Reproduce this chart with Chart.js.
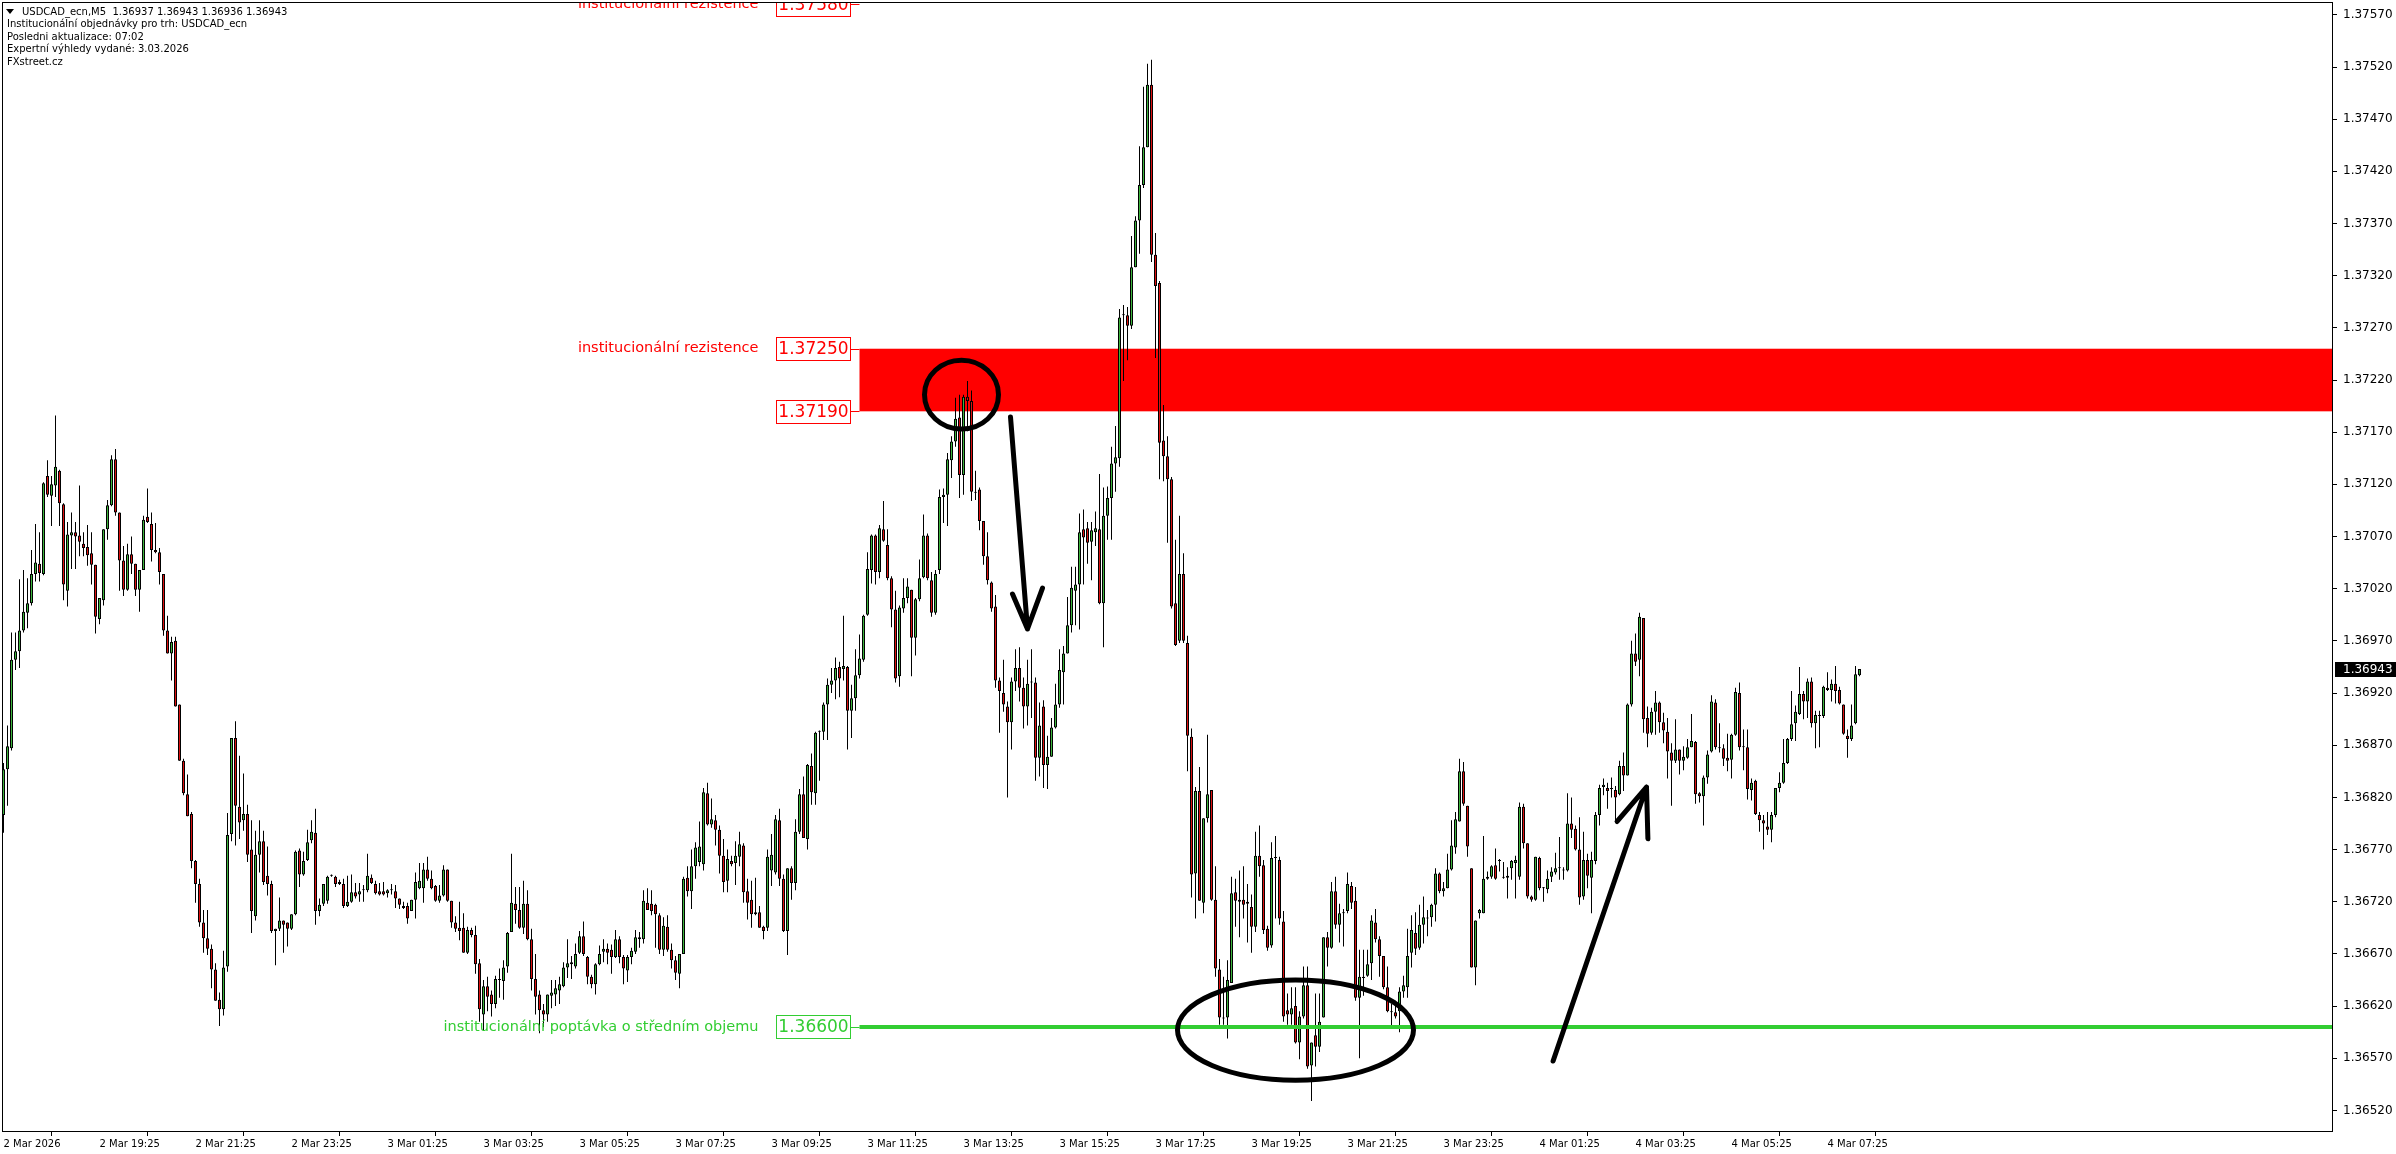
<!DOCTYPE html>
<html>
<head>
<meta charset="utf-8">
<title>USDCAD_ecn,M5</title>
<script src="https://cdn.jsdelivr.net/npm/chart.js@4.4.1/dist/chart.umd.min.js"></script>
<style>
  html, body { margin: 0; padding: 0; background: #fff; }
</style>
</head>
<body>
<canvas id="chart" width="2396" height="1154"></canvas>
<script>
// USDCAD_ecn M5, one candle per bar from 2 Mar 17:25 to 4 Mar 08:05.
// Prices kept in points above 1.36000 (943 = 1.36943).
const BASE = 1.36, POINT = 0.00001;

const opens = [
  803,847,867,952,960,980,997,1006,1034,1044, 1034,1128,1109,1119,1133,1101,1018,1071,1074,1071,
  1063,1060,1054,1043,991,1009,1077,1100,1144,1093, 1047,1019,1053,1044,1019,1038,1089,1082,1057,1055,
  1034,980,958,970,909,855,823,804,759,737, 700,685,675,655,626,617,658,785,877,811,
  798,804,770,706,765,778,745,737,692,694, 702,700,694,708,769,746,760,779,786,711,
  718,721,745,744,739,737,716,720,729,727, 731,731,743,737,730,730,728,731,730,723,
  716,716,711,722,733,733,751,742,735,721, 726,751,721,700,695,695,671,693,688,661,
  612,639,631,622,645,644,658,691,718,712, 695,718,684,646,631,616,612,630,631,635,
  639,657,660,658,671,687,667,648,641,660, 672,675,674,667,684,667,654,667,672,686,
  684,719,718,717,707,674,696,674,664,651, 670,743,730,754,758,756,824,794,798,789,
  764,740,759,757,763,774,730,722,710,710, 696,695,750,748,798,742,692,752,738,787,
  823,780,850,824,883,883,909,928,932,945, 943,945,903,915,937,952,995,1038,1071,1036,
  1077,1062,1030,1000,936,1001,1011,1019,973,1010, 1031,1071,1028,997,1038,1108,1110,1143,1161,1184,
  1129,1204,1200,1112,1115,1085,1051,1026,1003,932, 920,907,892,931,944,925,907,930,930,858,
  907,851,859,887,909,940,958,985,1018,1024, 1077,1078,1065,1074,1077,1006,1090,1107,1140,1145,
  1282,1282,1272,1328,1373,1407,1443,1503,1340,1313, 1162,1147,1125,1006,970,1034,968,878,747,826,
  719,800,827,722,655,608,609,642,729,722, 722,718,715,696,764,755,694,678,762,760,
  701,616,612,620,585,610,640,563,592,581, 609,686,676,730,698,709,711,735,721,628,
  647,649,661,700,684,668,638,614,614,615, 634,638,671,690,676,698,704,705,717,747,
  730,733,751,772,797,845,812,752,657,709, 709,742,744,755,759,743,743,752,757,744,
  811,776,725,722,762,733,732,744,748,752, 750,750,795,790,770,725,760,743,759,803,
  830,829,828,827,823,850,841,909,958,952, 992,896,882,902,911,892,883,863,855,866,
  855,858,868,873,824,821,839,864,911,867, 867,858,856,880,920,868,868,827,836,803,
  798,792,789,803,829,834,853,876,891,900, 919,912,931,891,898,898,925,923,929,923,
  909,879,876,891,937
];
const highs = [
  853,889,978,978,1029,1038,1030,1057,1082,1074, 1122,1143,1128,1186,1134,1102,1084,1093,1084,1119,
  1074,1081,1074,1043,1011,1077,1105,1148,1154,1093, 1061,1063,1070,1044,1038,1090,1116,1093,1083,1059,
  1034,994,974,974,909,857,842,806,760,742, 712,712,679,661,633,673,805,877,893,860,
  843,813,798,788,798,788,773,740,694,724, 702,700,708,769,771,768,789,798,809,723,
  737,745,746,745,741,742,745,746,738,738, 736,766,746,740,738,739,732,737,736,723,
  720,719,722,748,757,757,763,750,736,736, 755,751,721,706,720,709,696,695,697,665,
  645,648,635,649,656,664,691,766,734,734, 740,731,694,670,635,622,631,645,645,648,
  662,684,668,680,692,701,668,650,661,678, 684,680,679,693,687,669,669,676,693,691,
  731,733,731,718,709,705,707,680,668,670, 744,754,770,777,797,829,834,819,803,793,
  780,770,764,778,787,776,742,740,743,716, 697,770,785,803,809,746,752,754,799,828,
  840,852,862,883,884,911,934,944,954,950, 994,946,928,962,976,995,1055,1072,1072,1081,
  1104,1077,1032,1018,1004,1030,1030,1019,1011,1048, 1091,1073,1036,1038,1115,1116,1150,1166,1203,1206,
  1206,1219,1210,1133,1117,1085,1074,1027,1014,935, 952,912,935,962,964,935,952,962,935,911,
  913,879,896,929,962,965,1012,1041,1041,1092, 1096,1084,1084,1094,1130,1117,1118,1156,1176,1288,
  1292,1290,1358,1377,1444,1501,1523,1527,1361,1315, 1196,1166,1127,1067,1090,1054,975,886,830,849,
  800,880,827,754,665,648,664,744,742,750, 754,737,727,787,793,760,697,777,783,763,
  711,632,638,638,615,658,658,585,632,632, 686,691,739,744,718,713,748,739,734,674,
  674,674,707,713,687,668,658,622,625,638, 649,694,707,710,717,725,712,718,752,748,
  739,766,798,806,857,854,812,752,702,713, 783,749,755,771,761,758,753,760,764,815,
  814,776,726,763,763,734,750,753,767,782, 753,824,820,793,801,787,766,768,806,832,
  838,834,839,831,855,863,910,970,977,997, 992,907,906,922,912,901,896,872,895,866,
  869,876,900,874,825,841,865,918,914,891, 871,881,881,925,930,885,885,838,837,806,
  803,806,806,829,844,876,877,922,908,945, 922,934,935,903,903,927,940,933,946,926,
  909,885,909,946,943
];
const lows = [
  786,812,865,942,944,978,982,1004,1027,1027, 1033,1108,1080,1108,1080,1009,1003,1039,1039,1051,
  1051,1042,1024,977,986,1004,1067,1099,1090,1018, 1013,1018,1034,1013,998,1038,1083,1046,1054,1024,
  975,958,932,907,855,822,802,752,719,696, 671,669,637,625,601,611,653,778,774,780,
  788,758,690,702,748,736,726,690,659,692, 671,677,693,707,734,745,759,776,698,706,
  716,718,744,734,736,714,715,719,723,720, 720,729,737,727,726,726,724,727,714,713,
  713,699,711,704,732,719,740,732,720,719, 725,720,695,691,683,671,670,686,651,605,
  596,615,610,618,628,626,652,691,699,694, 689,683,635,612,594,600,605,618,620,622,
  638,647,646,656,670,668,641,637,631,659, 662,660,651,666,661,641,643,660,670,676,
  680,712,707,676,670,668,672,656,645,637, 670,725,713,742,754,750,793,791,774,747,
  729,729,754,736,754,719,703,695,707,695, 684,692,735,746,735,691,669,722,731,785,
  781,770,813,813,836,875,875,920,914,916, 932,866,877,903,934,950,994,1025,1024,1030,
  1065,1028,983,930,926,997,1006,936,956,1008, 1030,1028,993,995,1034,1083,1080,1126,1156,1107,
  1110,1171,1104,1105,1076,1043,1024,998,925,882, 902,820,866,922,912,886,889,896,836,840,
  829,828,859,886,906,909,958,978,985,981, 1024,1044,1028,1061,1005,964,1067,1067,1113,1137,
  1219,1239,1269,1328,1341,1404,1443,1333,1241,1125, 1123,1064,1001,965,968,968,845,724,704,721,
  709,796,721,648,602,602,589,642,696,686, 704,681,671,691,744,689,673,676,704,698,
  605,602,602,584,569,608,560,529,562,576, 609,658,675,694,681,677,709,713,625,570,
  630,648,645,681,648,636,614,601,608,595, 628,628,657,669,674,680,687,696,701,728,
  725,733,750,766,797,812,763,657,640,704, 709,741,742,741,749,742,723,741,723,741,
  771,723,720,721,731,720,728,739,746,741, 741,749,781,769,717,722,733,709,756,793,
  822,809,820,798,822,826,841,907,946,936, 882,868,880,880,882,872,838,812,853,842,
  846,857,868,814,815,793,833,863,866,863, 850,845,838,879,865,846,818,817,803,787,
  770,784,777,801,825,833,852,874,874,899, 895,896,887,867,868,896,922,912,910,909,
  880,858,874,890,936
];
const closes = [
  847,869,952,960,980,998,1006,1034,1045,1035, 1121,1110,1120,1137,1102,1024,1072,1074,1070,1065,
  1059,1052,1043,993,1011,1077,1100,1144,1093,1047, 1019,1053,1044,1019,1038,1086,1084,1057,1055,1036,
  980,958,969,907,855,824,802,759,737,700, 685,675,655,625,617,657,784,877,812,796,
  804,765,711,765,778,739,737,692,694,702, 698,694,708,768,746,759,777,787,711,717,
  737,744,745,737,737,716,720,729,725,730, 731,745,738,728,727,727,731,731,723,717,
  714,704,722,739,740,751,742,733,721,726, 751,721,700,694,692,671,693,688,660,617,
  639,629,622,646,645,657,690,719,712,695, 718,684,646,629,616,612,631,633,637,641,
  657,661,662,670,687,670,648,641,660,670, 675,671,667,684,667,656,667,673,686,684,
  721,712,711,708,674,697,674,664,652,670, 742,730,754,772,773,825,794,799,789,764,
  739,761,756,764,775,729,719,708,708,695, 692,763,765,799,742,692,752,738,787,823,
  781,851,825,882,883,909,928,932,944,934, 946,903,915,937,953,994,1039,1071,1036,1078,
  1066,1030,1000,934,1002,1011,1022,973,1010,1030, 1071,1030,997,1034,1108,1110,1144,1161,1183,1129,
  1204,1200,1113,1112,1085,1051,1028,1001,932,922, 909,892,931,944,925,907,929,930,858,889,
  851,859,887,909,942,958,985,1021,1024,1074, 1069,1064,1076,1078,1006,1090,1107,1140,1146,1280,
  1282,1272,1328,1373,1407,1443,1503,1340,1310,1160, 1147,1125,1003,966,1034,970,879,746,826,721,
  800,823,722,656,609,608,645,728,721,720, 717,720,696,764,754,693,676,762,762,704,
  610,612,618,585,610,640,562,585,581,605, 686,676,730,698,709,709,737,719,628,648,
  648,660,702,684,668,638,615,614,610,634, 640,668,693,675,698,705,704,717,747,730,
  733,751,774,799,845,814,773,657,702,712, 742,744,754,742,759,743,745,759,760,811,
  776,725,722,763,733,733,742,749,752,752, 750,795,789,770,724,760,745,760,803,829,
  832,826,828,820,850,841,909,958,950,993, 895,881,902,911,892,884,864,855,866,855,
  859,868,874,823,821,839,861,912,868,867, 857,855,880,921,868,868,828,834,804,798,
  795,789,803,829,834,853,876,890,902,919, 912,931,891,899,898,926,923,929,922,910,
  881,876,889,938,943
];

// time axis: bar number of each label (bar 1 = 2 Mar 17:25) and its text
const xTickBars = [1, 25, 49, 73, 97, 121, 145, 169, 193, 217, 241, 265, 289, 313, 337, 361, 385, 409, 433, 457];
const xTickLabels = ["2 Mar 2026", "2 Mar 19:25", "2 Mar 21:25", "2 Mar 23:25", "3 Mar 01:25", "3 Mar 03:25",
  "3 Mar 05:25", "3 Mar 07:25", "3 Mar 09:25", "3 Mar 11:25", "3 Mar 13:25", "3 Mar 15:25", "3 Mar 17:25",
  "3 Mar 19:25", "3 Mar 21:25", "3 Mar 23:25", "4 Mar 01:25", "4 Mar 03:25", "4 Mar 05:25", "4 Mar 07:25"];
const yTickValues = [1.36520, 1.36570, 1.36620, 1.36670, 1.36720, 1.36770, 1.36820, 1.36870, 1.36920, 1.36970,
  1.37020, 1.37070, 1.37120, 1.37170, 1.37220, 1.37270, 1.37320, 1.37370, 1.37420, 1.37470, 1.37520, 1.37570];

// drawn levels
const zoneLow = 1.37190, zoneHigh = 1.37250, topLevel = 1.37580, demandLevel = 1.36600;
const levelStartBar = 215;
const zoneCaption = "institucionální rezistence";
const demandCaption = "institucionální poptávka o středním objemu";
// hand-drawn marks, in [bar, price]
const ellipses = [
  { bar: 240.5, price: 1.37206, rBars: 9.25, rPrice: 0.00033 },
  { bar: 324, price: 1.36597, rBars: 29.5, rPrice: 0.00048 },
];
const arrowDown = [[252.75, 1.371845], [257, 1.369814], [253.25, 1.370149], [260.75, 1.370206]];
const arrowUp = [[388.4, 1.365673], [411.75, 1.368299], [404.4, 1.367969], [412.1, 1.367804]];

const headerLines = ["Institucionální objednávky pro trh: USDCAD_ecn", "Posledni aktualizace: 07:02",
  "Expertní výhledy vydané: 3.03.2026", "FXstreet.cz"];

const price = (v) => BASE + v * POINT;
const bull = "#3cb43c", bear = "#dc1010";
const FONT = '"DejaVu Sans"';

function tag(ctx, x0, yy, value, caption, color) {
  const boxR = x0 - 10, boxW = 74, boxH = 23;
  const top = Math.round(yy - boxH / 2) + 0.5;
  ctx.fillStyle = "#fff";
  ctx.fillRect(boxR - boxW, top, boxW, boxH);
  ctx.strokeStyle = color; ctx.lineWidth = 1;
  ctx.strokeRect(Math.round(boxR - boxW) + 0.5, top, boxW, boxH);
  ctx.beginPath();
  ctx.moveTo(Math.round(boxR), Math.round(yy) + 0.5);
  ctx.lineTo(x0, Math.round(yy) + 0.5);
  ctx.stroke();
  ctx.fillStyle = color; ctx.textBaseline = "middle";
  ctx.font = `17px ${FONT}`; ctx.textAlign = "center";
  ctx.fillText(value.toFixed(5), boxR - boxW / 2 + 1, yy + 1);
  if (caption) {
    ctx.font = `14.5px ${FONT}`; ctx.textAlign = "right";
    ctx.fillText(caption, boxR - boxW - 17, yy);
  }
}

const annotations = {
  id: "annotations",
  beforeDatasetsDraw(chart) {
    const { ctx, chartArea: a, scales: { x, y } } = chart;
    const x0 = x.getPixelForValue(levelStartBar);
    const yTop = y.getPixelForValue(zoneHigh), yBot = y.getPixelForValue(zoneLow);
    ctx.save();
    ctx.fillStyle = "#ff0000";
    ctx.fillRect(x0, yTop, a.right - x0, yBot - yTop);
    ctx.restore();
  },
  afterDatasetsDraw(chart) {
    const { ctx, chartArea: a, scales: { x, y } } = chart;
    const P = (p) => [x.getPixelForValue(p[0]), y.getPixelForValue(p[1])];
    const x0 = x.getPixelForValue(levelStartBar);
    ctx.save();
    ctx.beginPath(); ctx.rect(a.left, a.top, a.width, a.height); ctx.clip();

    // demand line
    const yd = y.getPixelForValue(demandLevel);
    ctx.fillStyle = "#32cd32";
    ctx.fillRect(x0, Math.round(yd) - 2, a.right - x0, 4);

    tag(ctx, x0, y.getPixelForValue(topLevel), topLevel, zoneCaption, "#ff0000");
    tag(ctx, x0, y.getPixelForValue(zoneHigh), zoneHigh, zoneCaption, "#ff0000");
    tag(ctx, x0, y.getPixelForValue(zoneLow), zoneLow, "", "#ff0000");
    tag(ctx, x0, yd, demandLevel, demandCaption, "#32cd32");

    // ellipses
    ctx.strokeStyle = "#000"; ctx.lineWidth = 5;
    for (const e of ellipses) {
      const cx = x.getPixelForValue(e.bar), cy = y.getPixelForValue(e.price);
      const rx = Math.abs(x.getPixelForValue(e.bar + e.rBars) - cx);
      const ry = Math.abs(y.getPixelForValue(e.price + e.rPrice) - cy);
      ctx.beginPath(); ctx.ellipse(cx, cy, rx, ry, 0, 0, Math.PI * 2); ctx.stroke();
    }
    // arrows: shaft start, tip, two barbs
    ctx.lineCap = "round"; ctx.lineJoin = "round";
    for (const ar of [arrowDown, arrowUp]) {
      const [s, t, b1, b2] = ar.map(P);
      ctx.beginPath();
      ctx.moveTo(s[0], s[1]); ctx.lineTo(t[0], t[1]);
      ctx.moveTo(b1[0], b1[1]); ctx.lineTo(t[0], t[1]); ctx.lineTo(b2[0], b2[1]);
      ctx.stroke();
    }
    ctx.restore();
  },
  afterDraw(chart) {
    const { ctx, chartArea: a, scales: { y } } = chart;
    ctx.save();
    // frame
    ctx.strokeStyle = "#000"; ctx.lineWidth = 1;
    ctx.strokeRect(a.left + 0.5, a.top + 0.5, a.width - 1, a.height - 1);

    // current price tag
    const n = closes.length - 1;
    const yl = Math.round(y.getPixelForValue(price(closes[n])));
    ctx.fillStyle = "#000";
    ctx.fillRect(a.right + 2, yl - 7, 62, 15);
    ctx.fillStyle = "#fff"; ctx.font = `12px ${FONT}`;
    ctx.textAlign = "left"; ctx.textBaseline = "middle";
    ctx.fillText(price(closes[n]).toFixed(5), a.right + 10, yl + 1);

    // header
    ctx.fillStyle = "#000"; ctx.font = `10px ${FONT}`;
    ctx.beginPath(); ctx.moveTo(6, 9); ctx.lineTo(14, 9); ctx.lineTo(10, 14); ctx.closePath(); ctx.fill();
    const ohlc = [opens[n], highs[n], lows[n], closes[n]].map((v) => price(v).toFixed(5)).join(" ");
    ctx.fillText(`USDCAD_ecn,M5  ${ohlc}`, 22, 12);
    headerLines.forEach((t, k) => ctx.fillText(t, 7, 24.5 + k * 12.5));
    ctx.restore();
  },
};

const tickGrid = { drawOnChartArea: false, drawTicks: true, tickLength: 4, color: "#000" };

new Chart(document.getElementById("chart"), {
  type: "bar",
  data: {
    datasets: [
      {
        label: "body",
        data: opens.map((o, k) => ({ x: k + 1, y: [price(o), price(closes[k])] })),
        backgroundColor: opens.map((o, k) => (closes[k] >= o ? bull : bear)),
        borderColor: "#000", borderWidth: 1, borderSkipped: false, inflateAmount: 0,
        barThickness: 3, minBarLength: 1, grouped: false, order: 1,
      },
      {
        label: "wick",
        data: highs.map((h, k) => ({ x: k + 1, y: [price(lows[k]), price(h)] })),
        backgroundColor: "#000", borderWidth: 0, inflateAmount: 0,
        barThickness: 1, grouped: false, order: 2,
      },
    ],
  },
  options: {
    responsive: false, animation: false, events: [],
    layout: { padding: { left: 2, top: 2, right: 0, bottom: 0 } },
    plugins: { legend: { display: false }, tooltip: { enabled: false } },
    scales: {
      x: {
        type: "linear", min: 0.625, max: 583.375, offset: false, bounds: "data",
        grid: tickGrid, border: { display: false },
        ticks: {
          autoSkip: false, maxRotation: 0, minRotation: 0, align: "start", padding: 2,
          color: "#000", font: { family: "DejaVu Sans", size: 10 },
          callback: (v) => xTickLabels[xTickBars.indexOf(v)] ?? "",
        },
        afterBuildTicks: (s) => { s.ticks = xTickBars.map((v) => ({ value: v })); },
        afterFit: (s) => { s.height = 22; s.paddingLeft = 0; s.paddingRight = 0; },
      },
      y: {
        type: "linear", position: "right", min: 1.364993, max: 1.375823, bounds: "data", beginAtZero: false,
        grid: tickGrid, border: { display: false },
        ticks: {
          autoSkip: false, padding: 6, color: "#000", font: { family: "DejaVu Sans", size: 12 },
          callback: (v) => v.toFixed(5),
        },
        afterBuildTicks: (s) => { s.ticks = yTickValues.map((v) => ({ value: v })); },
        afterFit: (s) => { s.width = 63; s.paddingTop = 0; s.paddingBottom = 0; },
      },
    },
  },
  plugins: [annotations],
});
</script>
</body>
</html>
